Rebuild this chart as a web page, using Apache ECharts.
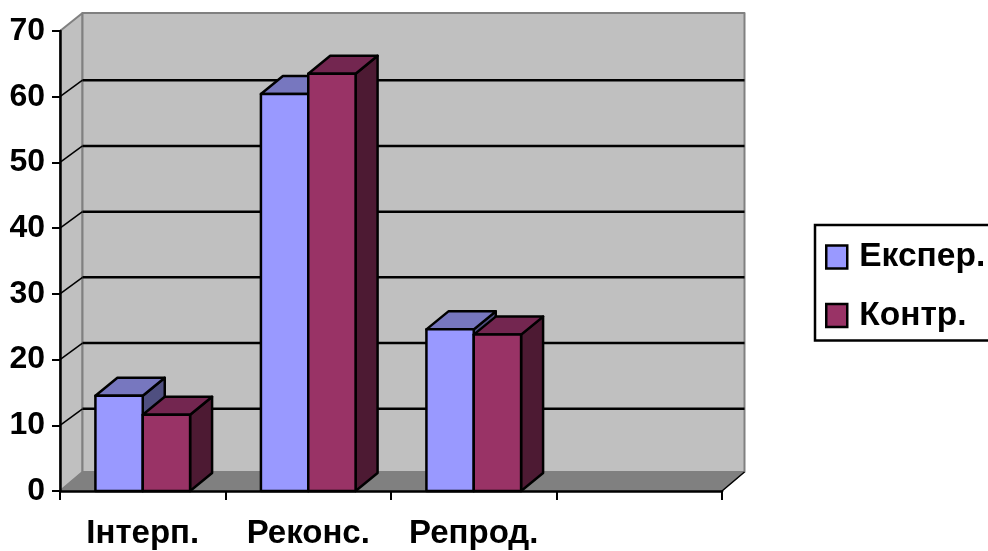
<!DOCTYPE html>
<html>
<head>
<meta charset="utf-8">
<style>html,body{margin:0;padding:0;background:#fff}#chart{width:988px;height:551px}</style>
<script src="https://cdn.jsdelivr.net/npm/echarts@6/dist/echarts.min.js"></script>
</head>
<body>
<div id="chart"></div>
<script>
const categories = ['Інтерп.', 'Реконс.', 'Репрод.', ''];
const eksper = [14.5, 60.4, 24.6];
const kontr = [11.6, 63.5, 23.8];
const yTicks = [10, 20, 30, 40, 50, 60];

// 3d look: how far the back wall / bar backs are shifted from the front plane
const WALL_DX = 22.5, WALL_DY = 18, LINE_DY = 16.5;
const BAR_DX = 22, BAR_DY = 18;
const BAR_RATIO = 0.286;

function poly(points, fill, stroke, lineWidth) {
	return { type: 'polygon', shape: { points: points }, style: { fill: fill, stroke: stroke, lineWidth: lineWidth, lineJoin: 'round' } };
}
function seg(x1, y1, x2, y2, color, w) {
	return { type: 'line', shape: { x1: x1, y1: y1, x2: x2, y2: y2 }, style: { stroke: color, lineWidth: w } };
}

function renderWalls(params, api) {
	let r = params.coordSys;
	let x0 = r.x, x1 = r.x + r.width, top = r.y, bot = r.y + r.height;
	let bx0 = x0 + WALL_DX, bx1 = x1 + WALL_DX, btop = top - WALL_DY, bbot = bot - WALL_DY - 1;
	return {
		type: 'group',
		children: [
			poly([[x0, top], [bx0, btop], [bx0, bbot], [x0, bot]], '#c0c0c0', '#808080', 2),
			poly([[bx0, btop], [bx1, btop], [bx1, bbot], [bx0, bbot]], '#c0c0c0', '#808080', 2),
			poly([[x0, bot], [bx0, bbot], [bx1, bbot], [x1, bot]], '#808080', '#808080', 1),
			seg(x1, bot, bx1, bbot, '#000', 1.5)
		]
	};
}

function renderGridLine(params, api) {
	let r = params.coordSys;
	let y = api.coord([0, api.value(1)])[1];
	return {
		type: 'group',
		children: [
			seg(r.x, y, r.x + WALL_DX, y - LINE_DY, '#000', 1.5),
			seg(r.x + WALL_DX, y - LINE_DY, r.x + r.width + WALL_DX, y - LINE_DY, '#000', 2.5)
		]
	};
}

function barRenderer(shift, front, topFace, side) {
	return function (params, api) {
		let band = api.size([1, 0])[0];
		let w = band * BAR_RATIO;
		let p = api.coord([api.value(0), api.value(1)]);
		let base = api.coord([api.value(0), 0])[1];
		let l = p[0] + shift * w, t = p[1], r = l + w;
		return {
			type: 'group',
			children: [
				poly([[r, t], [r + BAR_DX, t - BAR_DY], [r + BAR_DX, base - BAR_DY], [r, base]], side, '#000', 2.5),
				poly([[l, t], [l + BAR_DX, t - BAR_DY], [r + BAR_DX, t - BAR_DY], [r, t]], topFace, '#000', 2.5),
				poly([[l, t], [r, t], [r, base], [l, base]], front, '#000', 2.5)
			]
		};
	};
}

let myChart = echarts.init(document.getElementById('chart'), null, { renderer: 'canvas' });

let option = {
	animation: false,
	backgroundColor: '#fff',
	grid: { left: 60, top: 31, width: 662, height: 460 },
	legend: {
		data: ['Експер.', 'Контр.'],
		orient: 'vertical',
		left: 815,
		top: 225,
		padding: [15, 40, 8, 10],
		itemGap: 24.5,
		itemWidth: 21,
		itemHeight: 23,
		borderColor: '#000',
		borderWidth: 2.5,
		backgroundColor: '#fff',
		icon: 'rect',
		itemStyle: { borderColor: '#000', borderWidth: 2.5 },
		textStyle: { fontFamily: 'Liberation Sans', fontWeight: 'bold', fontSize: 33.5, color: '#000', padding: [0, 0, 0, 7] }
	},
	xAxis: {
		type: 'category',
		data: categories,
		z: 5,
		axisLine: { lineStyle: { color: '#000', width: 2.5 } },
		axisTick: { show: true, length: 9, lineStyle: { color: '#000', width: 2 } },
		axisLabel: { interval: 0, margin: 26, color: '#000', fontFamily: 'Liberation Sans', fontWeight: 'bold', fontSize: 33 }
	},
	yAxis: {
		type: 'value',
		min: 0,
		max: 70,
		interval: 10,
		z: 5,
		splitLine: { show: false },
		axisLine: { show: true, lineStyle: { color: '#000', width: 2.5 } },
		axisTick: { show: true, length: 8, lineStyle: { color: '#000', width: 2 } },
		axisLabel: { margin: 15, color: '#000', fontFamily: 'Liberation Sans', fontWeight: 'bold', fontSize: 32 }
	},
	series: [
		{ type: 'custom', silent: true, renderItem: renderWalls, data: [[0, 0]], clip: false, z: 1 },
		{ type: 'custom', silent: true, renderItem: renderGridLine, data: yTicks.map(t => [0, t]), clip: false, z: 1 },
		{
			name: 'Експер.', type: 'custom', clip: false, z: 2,
			itemStyle: { color: '#9999ff' },
			renderItem: barRenderer(-1, '#9999ff', '#7777bf', '#4f4f80'),
			data: eksper.map((v, i) => [i, v])
		},
		{
			name: 'Контр.', type: 'custom', clip: false, z: 2,
			itemStyle: { color: '#993366' },
			renderItem: barRenderer(0, '#993366', '#732650', '#4d1a33'),
			data: kontr.map((v, i) => [i, v])
		}
	]
};

myChart.setOption(option);
</script>
</body>
</html>
